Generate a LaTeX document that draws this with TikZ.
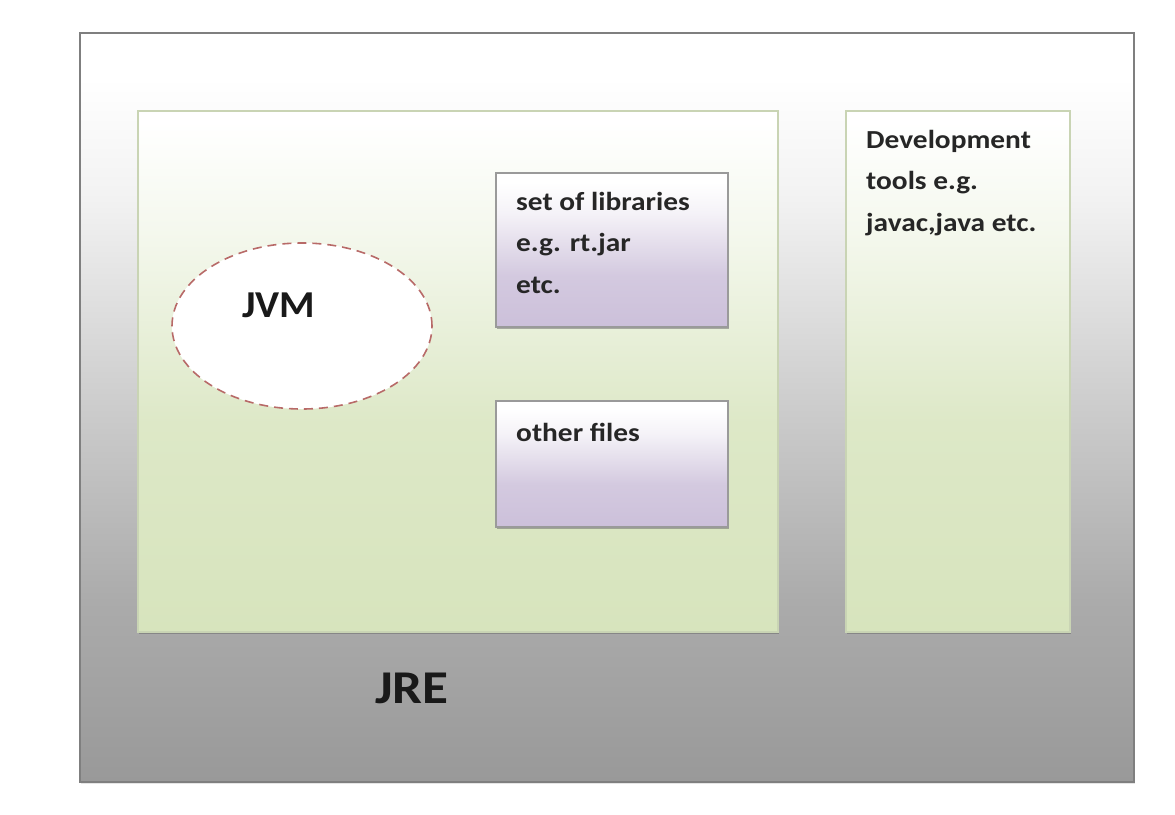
\documentclass[tikz,border=0pt]{standalone}
\usepackage{fontspec}
\setmainfont{Carlito}
\newfontfamily\boxfont[FakeStretch=1.13]{Carlito}
\newfontfamily\jvmfont[FakeStretch=1.07]{Carlito}
\newfontfamily\jrefont[FakeStretch=1.13]{Carlito}
\usetikzlibrary{shapes.geometric,shadows}
\definecolor{outerline}{HTML}{7F7F7F}
\definecolor{greenline}{HTML}{C9D4B4}
\definecolor{greenfill}{HTML}{D7E4BD}
\definecolor{purpfill}{HTML}{CCC0DA}
\definecolor{boxline}{HTML}{9A9A9A}
\definecolor{dashred}{HTML}{B86A68}
\pgfdeclareverticalshading{outershade}{100bp}{color(0bp)=(black!40); color(25bp)=(black!40); color(37bp)=(black!33); color(50bp)=(black!20); color(64bp)=(black!5); color(72bp)=(white); color(100bp)=(white)}
\pgfdeclareverticalshading{greenshade}{100bp}{color(0bp)=(greenfill); color(25bp)=(greenfill); color(45bp)=(greenfill!85!white); color(64bp)=(greenfill!25!white); color(74bp)=(white); color(100bp)=(white)}
\pgfdeclareverticalshading{purpshade}{100bp}{color(0bp)=(purpfill); color(25bp)=(purpfill); color(42bp)=(purpfill!85!white); color(62bp)=(purpfill!20!white); color(72bp)=(white); color(100bp)=(white)}
\tikzset{
  outerbox/.style={draw=outerline, line width=2.5pt, shading=outershade, rectangle, inner sep=0pt, drop shadow={shadow xshift=1pt, shadow yshift=-2pt, opacity=0.25, fill=black!40}},
  greenbox/.style={draw=greenline, line width=1.5pt, shading=greenshade, rectangle, inner sep=0pt, drop shadow={shadow xshift=1pt, shadow yshift=-2pt, opacity=0.5, fill=black!60}},
  purpbox/.style={draw=boxline, line width=1.2pt, shading=purpshade, rectangle, inner sep=0pt, drop shadow={shadow xshift=1pt, shadow yshift=-2pt, opacity=0.5, fill=black!60}},
  jvmell/.style={ellipse, draw=dashred, line width=1.6pt, dash pattern=on 9pt off 6pt, fill=white, inner sep=0pt},
  boxtext/.style={anchor=north west, inner sep=0pt, align=left, font=\boxfont\fontsize{26}{41.5}\selectfont\bfseries, text=black!85},
  bigtext/.style={anchor=base west, inner sep=0pt, text=black!90}
}
\begin{document}
\begin{tikzpicture}[x=1pt,y=-1pt]
\useasboundingbox (0,0) rectangle (1175,814);
\fill[white] (0,0) rectangle (1175,814);
\node[outerbox, minimum width=1054pt, minimum height=749pt] (jre) at (607,407.5) {};
\node[greenbox, minimum width=640pt, minimum height=521pt] (main) at (458,371.5) {};
\node[greenbox, minimum width=224pt, minimum height=521pt] (dev) at (958,371.5) {};
\node[purpbox, minimum width=232pt, minimum height=154pt] (lib) at (612,250) {};
\node[purpbox, minimum width=232pt, minimum height=126pt] (other) at (612,464) {};
\node[jvmell, minimum width=260pt, minimum height=166pt] (jvm) at (302,326) {};
\node[bigtext, font=\jvmfont\fontsize{38}{40}\selectfont\bfseries] (jvmtext) at (242,317) {JVM};
\node[bigtext, font=\jrefont\fontsize{47}{48}\selectfont\bfseries] (jretext) at (375,703) {JRE};
\node[boxtext] (libtext) at (516,192) {set of libraries\\e.g. rt.jar\\etc.};
\node[boxtext] (othertext) at (516,423) {other files};
\node[boxtext] (devtext) at (866,130) {Development\\tools e.g.\\javac,java etc.};
\end{tikzpicture}
\end{document}
